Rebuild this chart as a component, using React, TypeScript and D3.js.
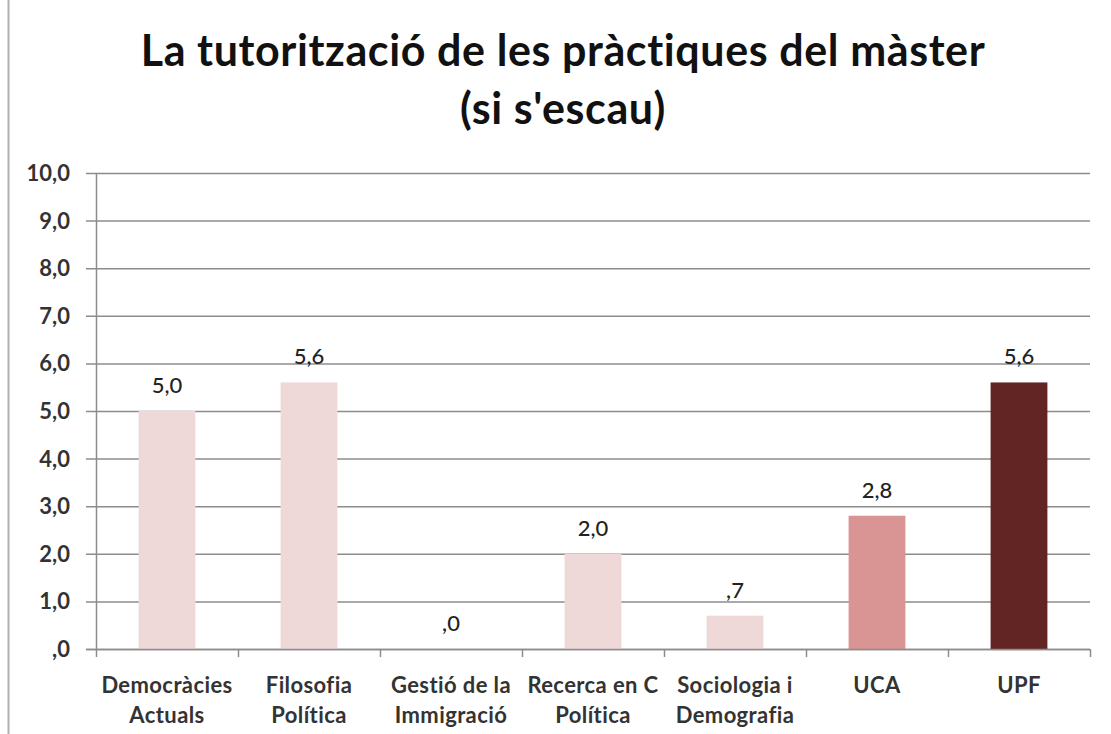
import React, { useEffect, useRef } from 'react';
import * as d3 from 'd3';

const categories = [
  ['Democràcies', 'Actuals'],
  ['Filosofia', 'Política'],
  ['Gestió de la', 'Immigració'],
  ['Recerca en C', 'Política'],
  ['Sociologia i', 'Demografia'],
  ['UCA'],
  ['UPF'],
];
const values = [5.0, 5.6, 0.0, 2.0, 0.7, 2.8, 5.6];
const barColors = ['#eed8d8', '#eed8d8', '#eed8d8', '#eed8d8', '#eed8d8', '#d99594', '#632523'];
const yTicks = [0, 1, 2, 3, 4, 5, 6, 7, 8, 9, 10];
const titleLines = ['La tutorització de les pràctiques del màster', "(si s'escau)"];

const fmt = (v: number) => {
  const s = v.toFixed(1).replace('.', ',');
  return s.startsWith('0') ? s.slice(1) : s;
};

export default function App() {
  const ref = useRef<SVGSVGElement>(null);

  useEffect(() => {
    const width = 1111;
    const height = 734;
    const left = 96, right = 1090, top = 173, bottom = 649;
    const font = "Lato, 'Open Sans', sans-serif";

    const svg = d3.select(ref.current);
    svg.selectAll('*').remove();

    svg.append('rect').attr('width', width).attr('height', height).attr('fill', 'white');
    // left border of the frame
    svg.append('line')
      .attr('x1', 8.5).attr('x2', 8.5).attr('y1', 0).attr('y2', height)
      .attr('stroke', '#b0b0b0').attr('stroke-width', 2);

    svg.selectAll('text.title')
      .data(titleLines).enter()
      .append('text')
      .attr('class', 'title')
      .attr('x', 563)
      .attr('y', (d, i) => 66 + i * 58)
      .attr('text-anchor', 'middle')
      .attr('font-family', font)
      .attr('font-weight', 'bold')
      .attr('font-size', 43)
      .attr('letter-spacing', 0.6)
      .attr('fill', '#111')
      .text(d => d);

    const x = d3.scaleBand<number>()
      .domain(d3.range(values.length))
      .range([left, right])
      .paddingInner(0.6)
      .paddingOuter(0.3);

    const y = d3.scaleLinear().domain([0, 10]).range([bottom, top]);

    // gridlines + y ticks
    const g = svg.append('g');
    g.selectAll('line.grid')
      .data(yTicks).enter()
      .append('line')
      .attr('x1', left - 10).attr('x2', right)
      .attr('y1', d => y(d) + 0.5).attr('y2', d => y(d) + 0.5)
      .attr('stroke', '#8c8c8c').attr('stroke-width', 1.5);

    g.selectAll('text.ytick')
      .data(yTicks).enter()
      .append('text')
      .attr('x', left - 26)
      .attr('y', d => y(d) + 8)
      .attr('text-anchor', 'end')
      .attr('font-family', font)
      .attr('font-weight', 'bold')
      .attr('font-size', 22)
      .attr('fill', '#333')
      .text(d => fmt(d));

    // bars
    svg.selectAll('rect.bar')
      .data(values).enter()
      .append('rect')
      .attr('x', (d, i) => x(i)!)
      .attr('width', x.bandwidth())
      .attr('y', d => y(d))
      .attr('height', d => bottom - y(d))
      .attr('fill', (d, i) => barColors[i]);

    // axes lines
    svg.append('line')
      .attr('x1', left + 0.5).attr('x2', left + 0.5).attr('y1', top).attr('y2', bottom)
      .attr('stroke', '#8c8c8c').attr('stroke-width', 1.5);
    svg.append('line')
      .attr('x1', left - 10).attr('x2', right).attr('y1', bottom + 0.5).attr('y2', bottom + 0.5)
      .attr('stroke', '#8c8c8c').attr('stroke-width', 1.5);

    const step = (right - left) / values.length;
    svg.selectAll('line.xtick')
      .data(d3.range(values.length + 1)).enter()
      .append('line')
      .attr('x1', i => left + i * step + 0.5).attr('x2', i => left + i * step + 0.5)
      .attr('y1', bottom).attr('y2', bottom + 8)
      .attr('stroke', '#8c8c8c').attr('stroke-width', 1.5);

    // value labels
    svg.selectAll('text.val')
      .data(values).enter()
      .append('text')
      .attr('x', (d, i) => x(i)! + x.bandwidth() / 2)
      .attr('y', d => y(d) - 18)
      .attr('text-anchor', 'middle')
      .attr('font-family', font)
      .attr('font-weight', 500)
      .attr('font-size', 22)
      .attr('fill', '#222')
      .text(d => fmt(d));

    // category labels
    const cat = svg.selectAll('text.cat')
      .data(categories).enter()
      .append('text')
      .attr('font-family', font)
      .attr('font-weight', 'bold')
      .attr('font-size', 22)
      .attr('letter-spacing', 0.4)
      .attr('fill', '#333')
      .attr('text-anchor', 'middle');
    cat.selectAll('tspan')
      .data((d, i) => d.map(t => ({ t, i })))
      .enter()
      .append('tspan')
      .attr('x', d => x(d.i)! + x.bandwidth() / 2)
      .attr('y', (d, j) => 693 + j * 30)
      .text(d => d.t);
  }, []);

  return <svg ref={ref} width={1111} height={734} style={{ display: 'block', position: 'absolute', left: 0, top: 0 }} />;
}
